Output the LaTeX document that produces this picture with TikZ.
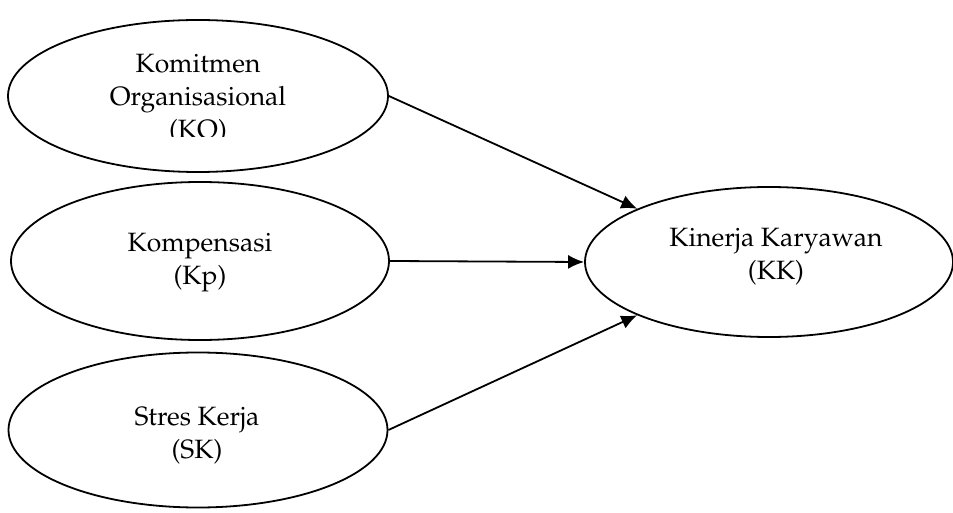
\documentclass[tikz,border=0pt]{standalone}
\usepackage[T1]{fontenc}
\usepackage{mathpazo}
\usetikzlibrary{shapes.geometric,arrows.meta}
\tikzset{
  latent/.style={draw,ellipse,line width=1.8pt,inner sep=0pt},
  effect/.style={line width=1.8pt,-{Latex[length=16pt,width=14pt]}},
  lbl/.style={align=center,font=\fontsize{26.5}{33}\selectfont}
}
\begin{document}
\begin{tikzpicture}[x=1pt,y=1pt]
  \useasboundingbox (0,0) rectangle (953,512);
  % latent variables
  \node[latent,minimum width=380pt,minimum height=152pt] (ko) at (198,416) {};
  \node[latent,minimum width=378pt,minimum height=158pt] (kp) at (200,251) {};
  \node[latent,minimum width=379pt,minimum height=155pt] (sk) at (198,82) {};
  \node[latent,minimum width=368pt,minimum height=150pt] (kk) at (769,250) {};
  % labels (the KO box cuts its last line)
  \begin{scope}
    \clip (0,375) rectangle (953,512);
    \node[lbl] (kotxt) at (198,413) {Komitmen\\Organisasional\\(KO)};
  \end{scope}
  \node[lbl] (kptxt) at (200,249) {Kompensasi\\(Kp)};
  \node[lbl] (sktxt) at (197,76) {Stres Kerja\\(SK)};
  \node[lbl] (kktxt) at (776,255) {Kinerja Karyawan\\(KK)};
  % paths
  \draw[effect] (ko.east) -- (kk.158);
  \draw[effect] (kp.east) -- (kk.west);
  \draw[effect] (sk.east) -- (kk.202);
\end{tikzpicture}
\end{document}
